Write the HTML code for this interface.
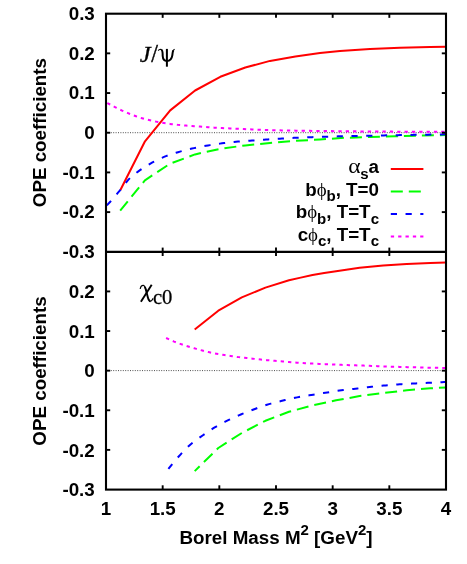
<!DOCTYPE html>
<html><head><meta charset="utf-8"><title>OPE coefficients</title>
<style>html,body{margin:0;padding:0;background:#fff;}svg{display:block;will-change:transform;}text{font-family:"Liberation Sans",sans-serif;font-weight:bold;fill:#000;}.sy{font-family:"Liberation Serif",serif;font-weight:normal;}</style>
</head><body>
<svg width="467" height="564" viewBox="0 0 467 564">
<rect x="0" y="0" width="467" height="564" fill="#fff"/>
<line x1="106.0" y1="132.7" x2="446.0" y2="132.7" stroke="#000" stroke-width="0.7" stroke-dasharray="1 1.4"/>
<line x1="106.0" y1="370.6" x2="446.0" y2="370.6" stroke="#000" stroke-width="0.7" stroke-dasharray="1 1.4"/>
<path d="M120.40 190.00 L145.00 141.30 L170.20 110.40 L195.10 90.50 L220.30 76.80 L245.30 67.50 L270.00 60.90 L295.40 56.40 L320.00 53.10 L340.00 51.00 L370.00 48.90 L400.00 47.70 L430.00 47.10 L446.00 46.80" fill="none" stroke="#ff0000" stroke-width="2.0" stroke-linejoin="round"/>
<path d="M120.20 210.70 L144.90 180.30 L169.80 163.80 L195.00 154.40 L220.40 148.80 L245.30 145.40 L270.00 143.00 L295.40 140.90 L320.00 139.40 L345.00 137.80 L370.00 137.00 L395.00 136.30 L420.00 135.60 L446.00 135.00" fill="none" stroke="#00ff00" stroke-width="2.0" stroke-dasharray="12 6" stroke-linejoin="round"/>
<path d="M106.00 206.40 L108.00 204.20 L110.00 201.96 L112.00 199.69 L114.00 197.39 L116.00 195.06 L118.00 192.70 L120.00 190.32 L122.00 187.85 L124.00 185.20 L126.00 182.55 L128.00 180.09 L130.00 178.02 L132.00 176.22 L134.00 174.56 L136.00 173.02 L138.00 171.58 L140.00 170.19 L142.00 168.83 L144.00 167.50 L146.00 166.22 L148.00 164.99 L150.00 163.81 L152.00 162.68 L154.00 161.61 L156.00 160.60 L158.00 159.63 L160.00 158.69 L162.00 157.80 L164.00 156.95 L166.00 156.14 L168.00 155.38 L170.00 154.67 L172.00 154.00 L174.00 153.36 L176.00 152.76 L178.00 152.17 L180.00 151.60 L182.00 151.04 L184.00 150.49 L186.00 149.97 L188.00 149.47 L190.00 149.00 L192.00 148.56 L194.00 148.12 L196.00 147.70 L198.00 147.30 L200.00 146.90 L202.00 146.52 L204.00 146.15 L206.00 145.79 L208.00 145.45 L210.00 145.12 L212.00 144.81 L214.00 144.50 L216.00 144.20 L218.00 143.91 L220.00 143.63 L222.00 143.36 L224.00 143.10 L226.00 142.85 L228.00 142.62 L230.00 142.39 L232.00 142.18 L234.00 141.98 L236.00 141.80 L238.00 141.62 L240.00 141.46 L242.00 141.30 L244.00 141.15 L246.00 141.00 L248.00 140.85 L250.00 140.71 L252.00 140.56 L254.00 140.41 L256.00 140.27 L258.00 140.12 L260.00 139.97 L262.00 139.83 L264.00 139.68 L266.00 139.54 L268.00 139.40 L270.00 139.26 L272.00 139.13 L274.00 139.01 L276.00 138.88 L278.00 138.76 L280.00 138.64 L282.00 138.52 L284.00 138.41 L286.00 138.30 L288.00 138.19 L290.00 138.08 L292.00 137.97 L294.00 137.87 L296.00 137.78 L298.00 137.69 L300.00 137.60 L302.00 137.52 L304.00 137.44 L306.00 137.37 L308.00 137.29 L310.00 137.23 L312.00 137.16 L314.00 137.09 L316.00 137.03 L318.00 136.96 L320.00 136.90 L322.00 136.84 L324.00 136.77 L326.00 136.71 L328.00 136.64 L330.00 136.58 L332.00 136.52 L334.00 136.46 L336.00 136.40 L338.00 136.35 L340.00 136.30 L342.00 136.25 L344.00 136.21 L346.00 136.16 L348.00 136.12 L350.00 136.08 L352.00 136.04 L354.00 136.00 L356.00 135.96 L358.00 135.93 L360.00 135.89 L362.00 135.85 L364.00 135.82 L366.00 135.78 L368.00 135.74 L370.00 135.70 L372.00 135.66 L374.00 135.62 L376.00 135.58 L378.00 135.54 L380.00 135.50 L382.00 135.45 L384.00 135.41 L386.00 135.37 L388.00 135.33 L390.00 135.29 L392.00 135.25 L394.00 135.21 L396.00 135.17 L398.00 135.14 L400.00 135.10 L402.00 135.06 L404.00 135.03 L406.00 135.00 L408.00 134.96 L410.00 134.93 L412.00 134.90 L414.00 134.86 L416.00 134.83 L418.00 134.80 L420.00 134.77 L422.00 134.74 L424.00 134.70 L426.00 134.67 L428.00 134.64 L430.00 134.60 L432.00 134.56 L434.00 134.53 L436.00 134.49 L438.00 134.45 L440.00 134.42 L442.00 134.38 L444.00 134.34 L446.00 134.30" fill="none" stroke="#0000ff" stroke-width="2.0" stroke-dasharray="6.2 8.55" stroke-dashoffset="-1.3" stroke-linejoin="round"/>
<path d="M106.00 102.40 L108.00 103.45 L110.00 104.50 L112.00 105.55 L114.00 106.59 L116.00 107.61 L118.00 108.62 L120.00 109.60 L122.00 110.54 L124.00 111.46 L126.00 112.34 L128.00 113.18 L130.00 114.00 L132.00 114.78 L134.00 115.54 L136.00 116.26 L138.00 116.94 L140.00 117.60 L142.00 118.23 L144.00 118.82 L146.00 119.36 L148.00 119.84 L150.00 120.30 L152.00 120.75 L154.00 121.19 L156.00 121.61 L158.00 122.02 L160.00 122.40 L162.00 122.74 L164.00 123.05 L166.00 123.35 L168.00 123.63 L170.00 123.90 L172.00 124.15 L174.00 124.38 L176.00 124.62 L178.00 124.88 L180.00 125.10 L182.00 125.28 L184.00 125.45 L186.00 125.61 L188.00 125.75 L190.00 125.90 L192.00 126.04 L194.00 126.18 L196.00 126.32 L198.00 126.46 L200.00 126.60 L202.00 126.76 L204.00 126.93 L206.00 127.10 L208.00 127.26 L210.00 127.40 L212.00 127.53 L214.00 127.64 L216.00 127.76 L218.00 127.87 L220.00 127.97 L222.00 128.08 L224.00 128.18 L226.00 128.27 L228.00 128.36 L230.00 128.46 L232.00 128.55 L234.00 128.63 L236.00 128.72 L238.00 128.81 L240.00 128.90 L242.00 128.99 L244.00 129.08 L246.00 129.17 L248.00 129.26 L250.00 129.35 L252.00 129.44 L254.00 129.52 L256.00 129.61 L258.00 129.69 L260.00 129.77 L262.00 129.84 L264.00 129.92 L266.00 129.98 L268.00 130.04 L270.00 130.10 L272.00 130.15 L274.00 130.20 L276.00 130.25 L278.00 130.29 L280.00 130.34 L282.00 130.38 L284.00 130.42 L286.00 130.46 L288.00 130.49 L290.00 130.53 L292.00 130.56 L294.00 130.60 L296.00 130.63 L298.00 130.67 L300.00 130.70 L302.00 130.73 L304.00 130.77 L306.00 130.80 L308.00 130.84 L310.00 130.87 L312.00 130.90 L314.00 130.93 L316.00 130.95 L318.00 130.98 L320.00 131.00 L322.00 131.02 L324.00 131.04 L326.00 131.06 L328.00 131.08 L330.00 131.10 L332.00 131.12 L334.00 131.14 L336.00 131.16 L338.00 131.18 L340.00 131.19 L342.00 131.21 L344.00 131.23 L346.00 131.25 L348.00 131.27 L350.00 131.29 L352.00 131.30 L354.00 131.32 L356.00 131.34 L358.00 131.36 L360.00 131.38 L362.00 131.39 L364.00 131.41 L366.00 131.43 L368.00 131.44 L370.00 131.46 L372.00 131.47 L374.00 131.49 L376.00 131.50 L378.00 131.52 L380.00 131.53 L382.00 131.55 L384.00 131.56 L386.00 131.58 L388.00 131.59 L390.00 131.60 L392.00 131.62 L394.00 131.63 L396.00 131.64 L398.00 131.65 L400.00 131.66 L402.00 131.67 L404.00 131.68 L406.00 131.70 L408.00 131.70 L410.00 131.71 L412.00 131.72 L414.00 131.73 L416.00 131.74 L418.00 131.75 L420.00 131.75 L422.00 131.76 L424.00 131.77 L426.00 131.77 L428.00 131.78 L430.00 131.78 L432.00 131.79 L434.00 131.79 L436.00 131.79 L438.00 131.80 L440.00 131.80 L442.00 131.80 L444.00 131.80 L446.00 131.80" fill="none" stroke="#ff00ff" stroke-width="2.0" stroke-dasharray="3.3 4.05" stroke-dashoffset="-1.4" stroke-linejoin="round"/>
<path d="M194.70 329.50 L218.30 310.70 L241.80 297.40 L265.40 287.60 L289.00 280.30 L300.70 277.60 L312.50 275.00 L324.20 273.10 L336.10 271.30 L359.60 267.80 L383.20 265.60 L406.70 264.10 L430.30 263.10 L446.00 262.50" fill="none" stroke="#ff0000" stroke-width="2.0" stroke-linejoin="round"/>
<path d="M194.70 471.10 L218.30 448.00 L241.80 433.00 L265.40 420.80 L289.00 411.80 L312.50 405.40 L336.10 400.30 L359.60 396.10 L383.20 393.00 L406.70 390.30 L430.30 388.30 L446.00 387.40" fill="none" stroke="#00ff00" stroke-width="2.0" stroke-dasharray="12 6" stroke-dashoffset="5.1" stroke-linejoin="round"/>
<path d="M168.40 468.90 L170.41 466.34 L172.42 463.85 L174.43 461.42 L176.45 459.06 L178.46 456.77 L180.47 454.55 L182.48 452.38 L184.49 450.25 L186.50 448.19 L188.52 446.23 L190.53 444.41 L192.54 442.73 L194.55 441.18 L196.56 439.70 L198.57 438.29 L200.59 436.90 L202.60 435.50 L204.61 434.09 L206.62 432.69 L208.63 431.32 L210.64 429.98 L212.66 428.69 L214.67 427.46 L216.68 426.29 L218.69 425.15 L220.70 424.05 L222.71 422.99 L224.72 421.95 L226.74 420.93 L228.75 419.94 L230.76 418.97 L232.77 418.02 L234.78 417.10 L236.79 416.20 L238.81 415.33 L240.82 414.47 L242.83 413.64 L244.84 412.82 L246.85 412.03 L248.86 411.25 L250.88 410.48 L252.89 409.72 L254.90 408.96 L256.91 408.20 L258.92 407.44 L260.93 406.70 L262.94 406.00 L264.96 405.34 L266.97 404.73 L268.98 404.16 L270.99 403.61 L273.00 403.08 L275.01 402.57 L277.03 402.07 L279.04 401.58 L281.05 401.09 L283.06 400.59 L285.07 400.09 L287.08 399.59 L289.10 399.10 L291.11 398.63 L293.12 398.18 L295.13 397.75 L297.14 397.36 L299.15 396.99 L301.17 396.64 L303.18 396.31 L305.19 395.99 L307.20 395.67 L309.21 395.35 L311.22 395.03 L313.23 394.70 L315.25 394.38 L317.26 394.05 L319.27 393.73 L321.28 393.41 L323.29 393.09 L325.30 392.77 L327.32 392.46 L329.33 392.13 L331.34 391.81 L333.35 391.49 L335.36 391.17 L337.37 390.86 L339.39 390.57 L341.40 390.30 L343.41 390.05 L345.42 389.81 L347.43 389.59 L349.44 389.37 L351.46 389.15 L353.47 388.94 L355.48 388.72 L357.49 388.49 L359.50 388.25 L361.51 388.00 L363.52 387.74 L365.54 387.49 L367.55 387.24 L369.56 387.00 L371.57 386.78 L373.58 386.57 L375.59 386.36 L377.61 386.16 L379.62 385.96 L381.63 385.76 L383.64 385.57 L385.65 385.38 L387.66 385.20 L389.68 385.03 L391.69 384.86 L393.70 384.70 L395.71 384.55 L397.72 384.40 L399.73 384.27 L401.74 384.15 L403.76 384.03 L405.77 383.92 L407.78 383.81 L409.79 383.71 L411.80 383.61 L413.81 383.51 L415.83 383.42 L417.84 383.33 L419.85 383.23 L421.86 383.14 L423.87 383.05 L425.88 382.96 L427.90 382.86 L429.91 382.77 L431.92 382.67 L433.93 382.57 L435.94 382.47 L437.95 382.38 L439.97 382.28 L441.98 382.19 L443.99 382.09 L446.00 382.00" fill="none" stroke="#0000ff" stroke-width="2.0" stroke-dasharray="6.2 8.55" stroke-linejoin="round"/>
<path d="M166.10 338.00 L168.11 338.96 L170.13 339.89 L172.14 340.77 L174.15 341.62 L176.17 342.41 L178.18 343.16 L180.20 343.86 L182.21 344.54 L184.22 345.19 L186.24 345.83 L188.25 346.46 L190.26 347.09 L192.28 347.70 L194.29 348.30 L196.31 348.88 L198.32 349.44 L200.33 350.01 L202.35 350.56 L204.36 351.09 L206.37 351.60 L208.39 352.07 L210.40 352.52 L212.41 352.93 L214.43 353.33 L216.44 353.71 L218.46 354.07 L220.47 354.42 L222.48 354.75 L224.50 355.07 L226.51 355.38 L228.52 355.68 L230.54 355.98 L232.55 356.28 L234.56 356.57 L236.58 356.86 L238.59 357.13 L240.61 357.39 L242.62 357.62 L244.63 357.84 L246.65 358.04 L248.66 358.24 L250.67 358.44 L252.69 358.65 L254.70 358.87 L256.72 359.11 L258.73 359.36 L260.74 359.58 L262.76 359.77 L264.77 359.95 L266.78 360.13 L268.80 360.30 L270.81 360.46 L272.82 360.62 L274.84 360.77 L276.85 360.93 L278.87 361.09 L280.88 361.26 L282.89 361.43 L284.91 361.61 L286.92 361.79 L288.93 361.97 L290.95 362.16 L292.96 362.34 L294.97 362.52 L296.99 362.69 L299.00 362.84 L301.02 362.99 L303.03 363.11 L305.04 363.23 L307.06 363.34 L309.07 363.44 L311.08 363.53 L313.10 363.62 L315.11 363.71 L317.13 363.80 L319.14 363.88 L321.15 363.97 L323.17 364.05 L325.18 364.14 L327.19 364.23 L329.21 364.32 L331.22 364.41 L333.23 364.50 L335.25 364.58 L337.26 364.67 L339.28 364.75 L341.29 364.83 L343.30 364.91 L345.32 364.99 L347.33 365.06 L349.34 365.13 L351.36 365.20 L353.37 365.26 L355.38 365.33 L357.40 365.40 L359.41 365.47 L361.43 365.55 L363.44 365.62 L365.45 365.70 L367.47 365.78 L369.48 365.85 L371.49 365.93 L373.51 366.01 L375.52 366.09 L377.54 366.17 L379.55 366.24 L381.56 366.32 L383.58 366.39 L385.59 366.47 L387.60 366.53 L389.62 366.60 L391.63 366.66 L393.64 366.73 L395.66 366.78 L397.67 366.84 L399.69 366.90 L401.70 366.96 L403.71 367.02 L405.73 367.07 L407.74 367.13 L409.75 367.18 L411.77 367.24 L413.78 367.29 L415.79 367.34 L417.81 367.39 L419.82 367.44 L421.84 367.49 L423.85 367.54 L425.86 367.59 L427.88 367.64 L429.89 367.68 L431.90 367.73 L433.92 367.77 L435.93 367.81 L437.95 367.85 L439.96 367.89 L441.97 367.93 L443.99 367.96 L446.00 368.00" fill="none" stroke="#ff00ff" stroke-width="2.0" stroke-dasharray="3.3 4.05" stroke-linejoin="round"/>
<line x1="390.8" y1="168.9" x2="423.4" y2="168.9" stroke="#ff0000" stroke-width="2.0"/>
<line x1="390.8" y1="191.4" x2="423.4" y2="191.4" stroke="#00ff00" stroke-width="2.0" stroke-dasharray="12 6"/>
<line x1="390.8" y1="213.9" x2="423.4" y2="213.9" stroke="#0000ff" stroke-width="2.0" stroke-dasharray="6.2 8.55"/>
<line x1="390.8" y1="236.6" x2="423.4" y2="236.6" stroke="#ff00ff" stroke-width="2.0" stroke-dasharray="3.3 4.05"/>
<line x1="162.67" y1="13.65" x2="162.67" y2="17.85" stroke="#000" stroke-width="1.9"/>
<line x1="162.67" y1="247.60" x2="162.67" y2="256.00" stroke="#000" stroke-width="1.9"/>
<line x1="162.67" y1="485.30" x2="162.67" y2="489.50" stroke="#000" stroke-width="1.9"/>
<line x1="219.33" y1="13.65" x2="219.33" y2="17.85" stroke="#000" stroke-width="1.9"/>
<line x1="219.33" y1="247.60" x2="219.33" y2="256.00" stroke="#000" stroke-width="1.9"/>
<line x1="219.33" y1="485.30" x2="219.33" y2="489.50" stroke="#000" stroke-width="1.9"/>
<line x1="276.00" y1="13.65" x2="276.00" y2="17.85" stroke="#000" stroke-width="1.9"/>
<line x1="276.00" y1="247.60" x2="276.00" y2="256.00" stroke="#000" stroke-width="1.9"/>
<line x1="276.00" y1="485.30" x2="276.00" y2="489.50" stroke="#000" stroke-width="1.9"/>
<line x1="332.67" y1="13.65" x2="332.67" y2="17.85" stroke="#000" stroke-width="1.9"/>
<line x1="332.67" y1="247.60" x2="332.67" y2="256.00" stroke="#000" stroke-width="1.9"/>
<line x1="332.67" y1="485.30" x2="332.67" y2="489.50" stroke="#000" stroke-width="1.9"/>
<line x1="389.33" y1="13.65" x2="389.33" y2="17.85" stroke="#000" stroke-width="1.9"/>
<line x1="389.33" y1="247.60" x2="389.33" y2="256.00" stroke="#000" stroke-width="1.9"/>
<line x1="389.33" y1="485.30" x2="389.33" y2="489.50" stroke="#000" stroke-width="1.9"/>
<line x1="106.00" y1="53.34" x2="110.20" y2="53.34" stroke="#000" stroke-width="1.9"/>
<line x1="441.80" y1="53.34" x2="446.00" y2="53.34" stroke="#000" stroke-width="1.9"/>
<line x1="106.00" y1="93.03" x2="110.20" y2="93.03" stroke="#000" stroke-width="1.9"/>
<line x1="441.80" y1="93.03" x2="446.00" y2="93.03" stroke="#000" stroke-width="1.9"/>
<line x1="106.00" y1="132.72" x2="110.20" y2="132.72" stroke="#000" stroke-width="1.9"/>
<line x1="441.80" y1="132.72" x2="446.00" y2="132.72" stroke="#000" stroke-width="1.9"/>
<line x1="106.00" y1="172.42" x2="110.20" y2="172.42" stroke="#000" stroke-width="1.9"/>
<line x1="441.80" y1="172.42" x2="446.00" y2="172.42" stroke="#000" stroke-width="1.9"/>
<line x1="106.00" y1="212.11" x2="110.20" y2="212.11" stroke="#000" stroke-width="1.9"/>
<line x1="441.80" y1="212.11" x2="446.00" y2="212.11" stroke="#000" stroke-width="1.9"/>
<line x1="106.00" y1="291.42" x2="110.20" y2="291.42" stroke="#000" stroke-width="1.9"/>
<line x1="441.80" y1="291.42" x2="446.00" y2="291.42" stroke="#000" stroke-width="1.9"/>
<line x1="106.00" y1="331.03" x2="110.20" y2="331.03" stroke="#000" stroke-width="1.9"/>
<line x1="441.80" y1="331.03" x2="446.00" y2="331.03" stroke="#000" stroke-width="1.9"/>
<line x1="106.00" y1="370.65" x2="110.20" y2="370.65" stroke="#000" stroke-width="1.9"/>
<line x1="441.80" y1="370.65" x2="446.00" y2="370.65" stroke="#000" stroke-width="1.9"/>
<line x1="106.00" y1="410.27" x2="110.20" y2="410.27" stroke="#000" stroke-width="1.9"/>
<line x1="441.80" y1="410.27" x2="446.00" y2="410.27" stroke="#000" stroke-width="1.9"/>
<line x1="106.00" y1="449.88" x2="110.20" y2="449.88" stroke="#000" stroke-width="1.9"/>
<line x1="441.80" y1="449.88" x2="446.00" y2="449.88" stroke="#000" stroke-width="1.9"/>
<rect x="106.0" y="13.7" width="340.0" height="475.9" fill="none" stroke="#000" stroke-width="2.1"/>
<line x1="106.0" y1="251.8" x2="446.0" y2="251.8" stroke="#000" stroke-width="2.2"/>
<text x="94.8" y="19.9" font-size="18.8" text-anchor="end">0.3</text>
<text x="94.8" y="59.6" font-size="18.8" text-anchor="end">0.2</text>
<text x="94.8" y="99.3" font-size="18.8" text-anchor="end">0.1</text>
<text x="94.8" y="139.0" font-size="18.8" text-anchor="end">0</text>
<text x="94.8" y="178.7" font-size="18.8" text-anchor="end">-0.1</text>
<text x="94.8" y="218.4" font-size="18.8" text-anchor="end">-0.2</text>
<text x="94.8" y="258.1" font-size="18.8" text-anchor="end">-0.3</text>
<text x="94.8" y="298.1" font-size="18.8" text-anchor="end">0.2</text>
<text x="94.8" y="337.7" font-size="18.8" text-anchor="end">0.1</text>
<text x="94.8" y="377.3" font-size="18.8" text-anchor="end">0</text>
<text x="94.8" y="416.9" font-size="18.8" text-anchor="end">-0.1</text>
<text x="94.8" y="456.5" font-size="18.8" text-anchor="end">-0.2</text>
<text x="94.8" y="496.2" font-size="18.8" text-anchor="end">-0.3</text>
<text x="106.0" y="515.0" font-size="18.8" text-anchor="middle">1</text>
<text x="162.7" y="515.0" font-size="18.8" text-anchor="middle">1.5</text>
<text x="219.3" y="515.0" font-size="18.8" text-anchor="middle">2</text>
<text x="276.0" y="515.0" font-size="18.8" text-anchor="middle">2.5</text>
<text x="332.7" y="515.0" font-size="18.8" text-anchor="middle">3</text>
<text x="389.3" y="515.0" font-size="18.8" text-anchor="middle">3.5</text>
<text x="446.0" y="515.0" font-size="18.8" text-anchor="middle">4</text>
<text x="276" y="544.4" font-size="18.8" text-anchor="middle">Borel Mass M<tspan dy="-9.2" font-size="15.0">2</tspan><tspan dy="9.2"> [GeV</tspan><tspan dy="-9.2" font-size="15.0">2</tspan><tspan dy="9.2">]</tspan></text>
<text transform="translate(46.3 132.6) rotate(-90)" font-size="18.8" text-anchor="middle">OPE coefficients</text>
<text transform="translate(46.3 371.0) rotate(-90)" font-size="18.8" text-anchor="middle">OPE coefficients</text>
<text transform="translate(139.63 62.00) scale(1.020 0.990)" font-size="24.00" class="sy" font-style="italic" stroke="#000" stroke-width="0.3">J</text>
<text transform="translate(151.16 61.80) scale(1.000 1.040)" font-size="24.00" class="sy" stroke="#000" stroke-width="0.4">/</text>
<g fill="none" stroke="#000" stroke-linecap="butt" stroke-linejoin="round"><path d="M166.9 48.9 L166.9 66.7" stroke-width="2"/><path d="M158.2 50.6 C159 49.4 160.6 49 161.7 49.9" stroke-width="1.1"/><path d="M161.3 49.7 C162.9 50.4 162.6 53.6 162.7 56 C162.9 59.2 164.5 61 166.9 61.1 C169.7 61 171.8 58.8 172.3 55.4 C172.6 53.4 172.6 51.6 173.3 50.4" stroke-width="2"/><path d="M172.9 51.2 C173.2 50.2 173.8 49.6 174.6 49.2" stroke-width="1.2"/></g>
<g transform="translate(0.00 0.00)" fill="none" stroke="#000" stroke-linecap="butt" stroke-linejoin="round"><path d="M140.2 289 C140.6 286.6 141.8 285.3 143.2 285.3 C144.6 285.3 145.3 287.2 146.1 290.5" stroke-width="1.2"/><path d="M144.9 286.8 C145.5 288 145.8 289.5 146.2 291 L147.9 297.5 C148.5 299.8 149.2 301.2 150.4 301.2" stroke-width="1.9"/><path d="M149.6 300.9 C151.2 301.6 152.3 300.3 152.8 298.3" stroke-width="1.2"/><path d="M151.7 284.8 L140.9 301.7" stroke-width="1.9"/></g>
<text x="152.92" y="304.40" font-size="20.60" class="sy" stroke="#000" stroke-width="0.3">c0</text>
<text transform="translate(348.19 173.20) scale(1.255 1.075)" font-size="18.80" class="sy">α</text>
<text x="360.18" y="178.80" font-size="15.04">s</text>
<text x="368.54" y="173.20" font-size="18.80">a</text>
<text x="305.17" y="195.70" font-size="18.80">b</text>
<text x="316.65" y="195.70" font-size="18.80" class="sy">ϕ</text>
<text x="326.45" y="201.30" font-size="15.04">b</text>
<text x="335.64" y="195.70" font-size="18.80">, T=0</text>
<text x="295.78" y="218.20" font-size="18.80">b</text>
<text x="307.26" y="218.20" font-size="18.80" class="sy">ϕ</text>
<text x="317.06" y="223.80" font-size="15.04">b</text>
<text x="326.24" y="218.20" font-size="18.80">, T=T</text>
<text x="370.64" y="223.80" font-size="15.04">c</text>
<text x="297.63" y="240.80" font-size="18.80">c</text>
<text x="308.08" y="240.80" font-size="18.80" class="sy">ϕ</text>
<text x="317.88" y="246.40" font-size="15.04">c</text>
<text x="326.24" y="240.80" font-size="18.80">, T=T</text>
<text x="370.64" y="246.40" font-size="15.04">c</text>
</svg></body></html>
